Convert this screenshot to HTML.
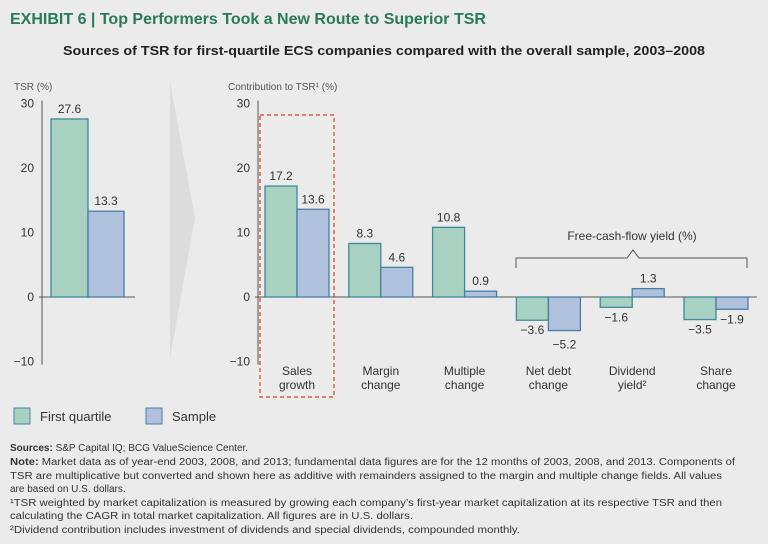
<!DOCTYPE html>
<html><head><meta charset="utf-8"><style>
body{margin:0;background:#ebebec;font-family:"Liberation Sans",sans-serif;}
svg{display:block}
text{font-family:"Liberation Sans",sans-serif}
</style></head><body>
<svg width="768" height="544" viewBox="0 0 768 544">
<rect width="768" height="544" fill="#ebebec"/>
<text x="10" y="24" font-size="16" font-weight="bold" fill="#2a7a57">EXHIBIT 6 | Top Performers Took a New Route to Superior TSR</text>
<text x="384" y="55" font-size="13" font-weight="bold" fill="#222" text-anchor="middle" textLength="642" lengthAdjust="spacingAndGlyphs">Sources of TSR for first-quartile ECS companies compared with the overall sample, 2003–2008</text>
<text x="14" y="90" font-size="10" fill="#555">TSR (%)</text>
<text x="228" y="90" font-size="10" fill="#555">Contribution to TSR¹ (%)</text>
<polygon points="170,82 195,218 170,358" fill="#dcdcdd"/>
<rect x="260" y="115" width="74" height="282" fill="none" stroke="#d9603f" stroke-width="1.5" stroke-dasharray="4,3"/>
<g id="left"></g>
<g id="right"></g>
<path d="M516,268 V258 H627 L633,250 L639,258 H747 V268" fill="none" stroke="#555" stroke-width="1"/>
<text x="632" y="240" font-size="12" fill="#333" text-anchor="middle">Free-cash-flow yield (%)</text>
<rect x="14" y="408" width="16" height="16" fill="#a9d1c1" stroke="#3c8a9b"/>
<text x="40" y="421" font-size="13" fill="#333">First quartile</text>
<rect x="146" y="408" width="16" height="16" fill="#afc1dd" stroke="#4a7ea6"/>
<text x="172" y="421" font-size="13" fill="#333">Sample</text>
<g font-size="10" fill="#333">
<text x="10" y="451"><tspan font-weight="bold">Sources:</tspan> S&amp;P Capital IQ; BCG ValueScience Center.</text>
<text x="10" y="465" textLength="725" lengthAdjust="spacingAndGlyphs"><tspan font-weight="bold">Note:</tspan> Market data as of year-end 2003, 2008, and 2013; fundamental data figures are for the 12 months of 2003, 2008, and 2013. Components of</text>
<text x="10" y="479" textLength="712" lengthAdjust="spacingAndGlyphs">TSR are multiplicative but converted and shown here as additive with remainders assigned to the margin and multiple change fields. All values</text>
<text x="10" y="492">are based on U.S. dollars.</text>
<text x="10" y="506" textLength="712" lengthAdjust="spacingAndGlyphs">¹TSR weighted by market capitalization is measured by growing each company’s first-year market capitalization at its respective TSR and then</text>
<text x="10" y="519" textLength="403" lengthAdjust="spacingAndGlyphs">calculating the CAGR in total market capitalization. All figures are in U.S. dollars.</text>
<text x="10" y="533" textLength="510" lengthAdjust="spacingAndGlyphs">²Dividend contribution includes investment of dividends and special dividends, compounded monthly.</text>
</g>
</svg>
<script>
const leftFirst=[27.6];
const leftSample=[13.3];
const categories=["Sales|growth","Margin|change","Multiple|change","Net debt|change","Dividend|yield²","Share|change"];
const firstQuartile=[17.2,8.3,10.8,-3.6,-1.6,-3.5];
const sample=[13.6,4.6,0.9,-5.2,1.3,-1.9];
const ticks=[30,20,10,0,-10];
const NS="http://www.w3.org/2000/svg";
const zeroY=297, k=6.45;
const y=v=>zeroY-v*k;
function mk(p,tag,a,txt){const e=document.createElementNS(NS,tag);for(const n in a)e.setAttribute(n,a[n]);if(txt!=null)e.textContent=txt;p.appendChild(e);return e;}
function fmt(v){return (v<0?"−":"")+Math.abs(v).toFixed(1);}
function bar(g,x,w,v,fill,stroke,labelDy){
  const r=mk(g,"rect",{x:x,y:Math.min(y(v),zeroY),width:w,height:Math.abs(v*k),fill:fill,stroke:stroke,"stroke-width":1.3});
  
  
  const ly=v>=0?y(v)-6:y(v)+14+(labelDy||0);
  const t=mk(g,"text",{x:x+w/2,y:ly,"font-size":12,fill:"#333","text-anchor":"middle"},fmt(v));
  
  
}
function axis(g,ax,x2){
  mk(g,"line",{x1:ax,y1:y(ticks[0])-3,x2:ax,y2:y(ticks[ticks.length-1])+3,stroke:"#555"});
  mk(g,"line",{x1:ax-3,y1:zeroY,x2:x2,y2:zeroY,stroke:"#555"});
  ticks.forEach(t=>{const e=mk(g,"text",{x:ax-8,y:y(t)+4,"font-size":12,fill:"#333","text-anchor":"end"},t<0?"−"+(-t):t);
    
    });
}
const L=document.getElementById("left"), R=document.getElementById("right");
axis(L,42,135);
bar(L,51,37,leftFirst[0],"#a9d1c1","#3c8a9b");
bar(L,88,36,leftSample[0],"#afc1dd","#4a7ea6");
axis(R,258,757);
categories.forEach((c,i)=>{
  const x0=265+i*83.8;
  bar(R,x0,32,firstQuartile[i],"#a9d1c1","#3c8a9b",0);
  bar(R,x0+32,32,sample[i],"#afc1dd","#4a7ea6",firstQuartile[i]<0&&sample[i]<0&&sample[i]<firstQuartile[i]?4:0);
  const parts=c.split("|");
  parts.forEach((p,j)=>{const t=mk(R,"text",{x:x0+32,y:375+j*14,"font-size":12,fill:"#333","text-anchor":"middle"},p);
    
    });
});
</script>
</body></html>
